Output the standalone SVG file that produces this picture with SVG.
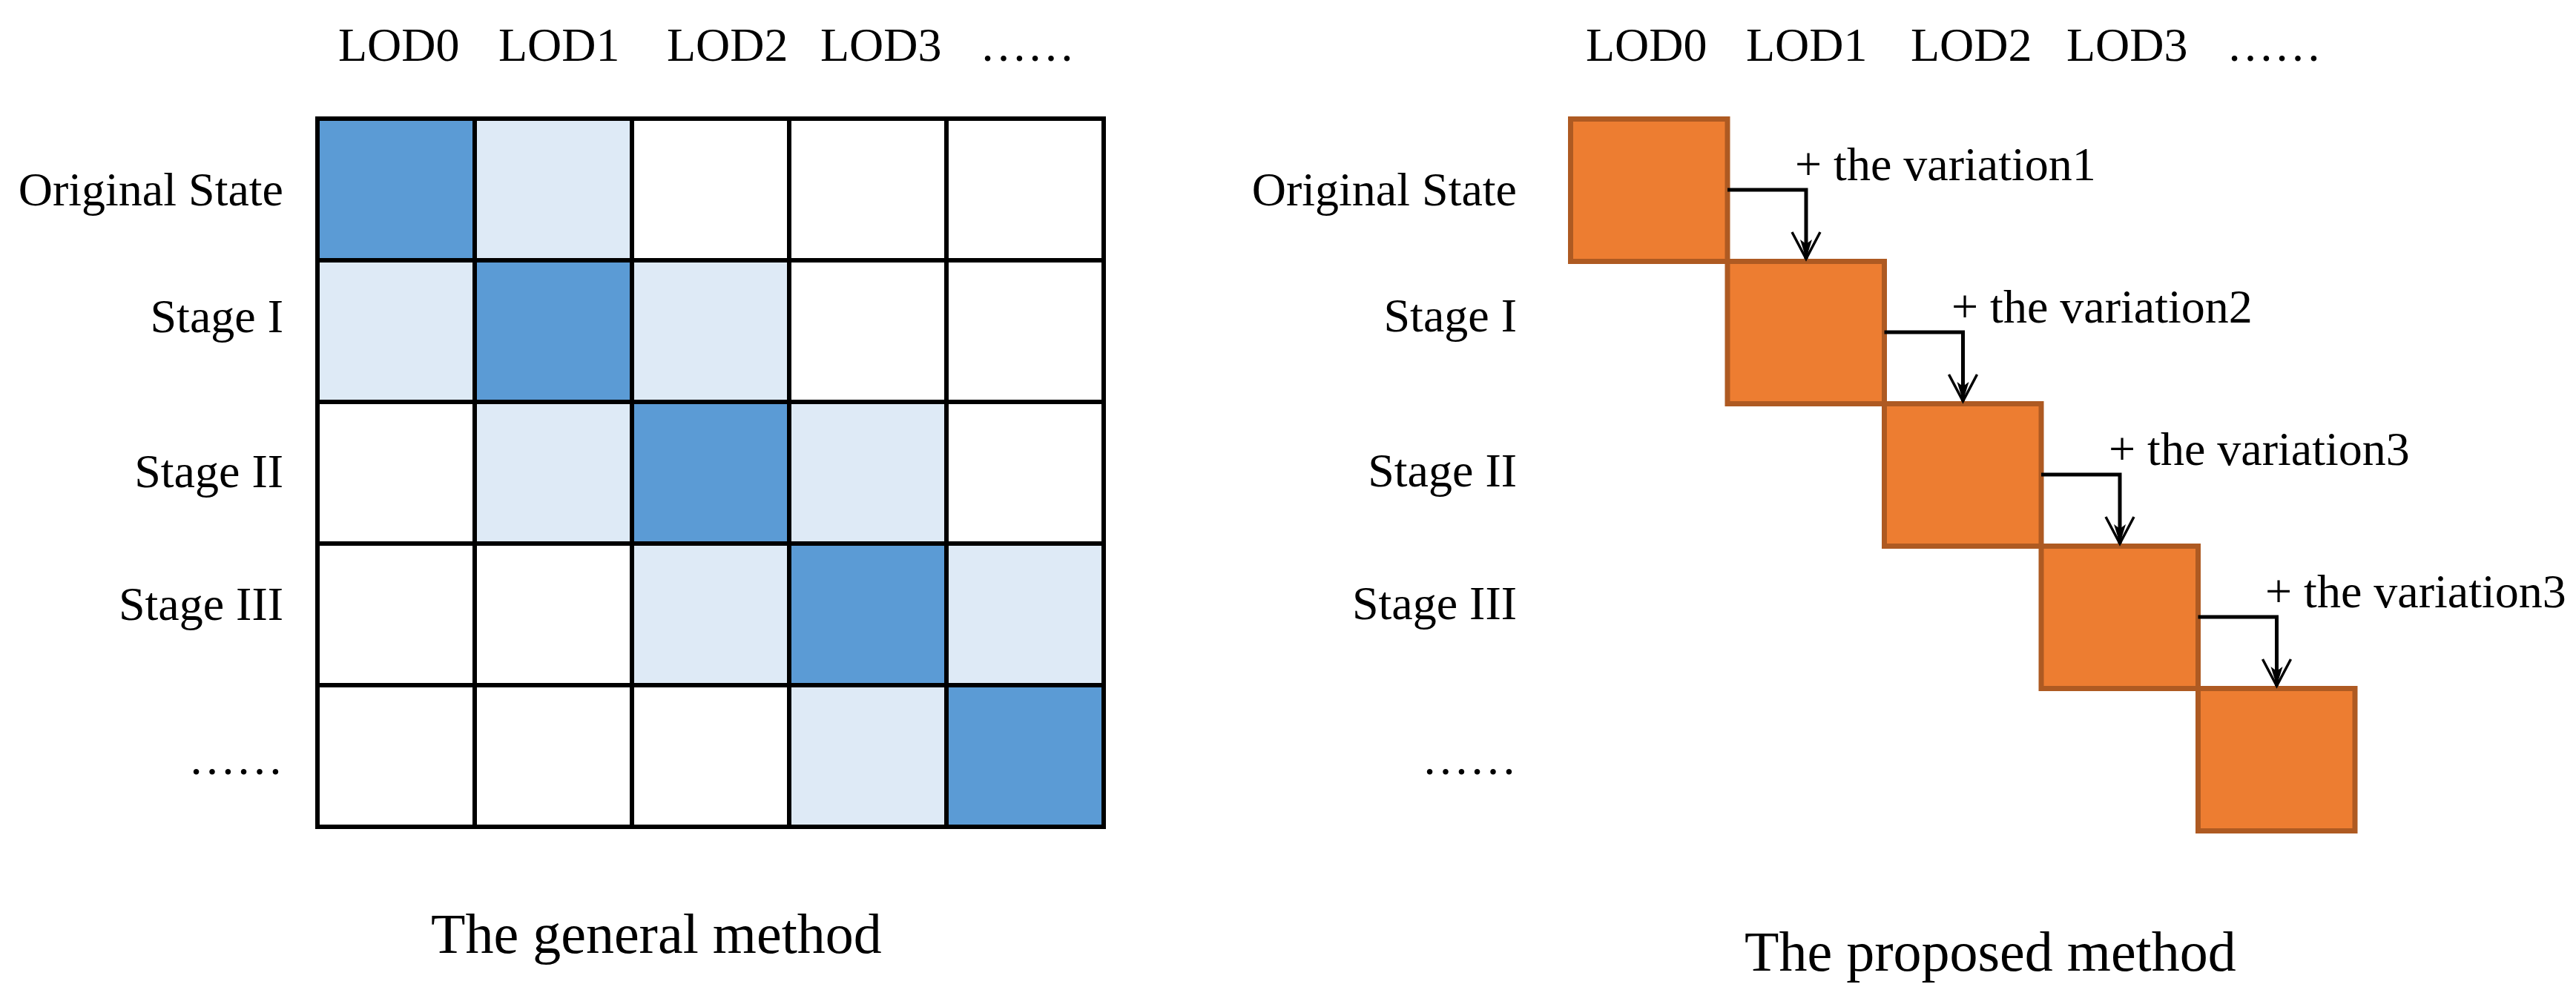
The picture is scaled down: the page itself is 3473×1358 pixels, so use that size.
<svg xmlns="http://www.w3.org/2000/svg" width="3473" height="1358" viewBox="0 0 3473 1358">
<style>
text{font-family:"Liberation Serif","Times New Roman",serif;font-size:64px;fill:#000}
.title{font-size:76px}
.lbl{text-anchor:end}
.dk{fill:#5B9BD5}
.lt{fill:#DEEAF6}
.wh{fill:#FFFFFF}
.gl{stroke:#000;stroke-width:6;fill:none;stroke-linecap:square}
.ob{fill:#ED7D31;stroke:#AE5A22;stroke-width:7}
.con{stroke:#000;stroke-width:5;fill:none}
</style>
<defs>
<marker id="arr" markerUnits="userSpaceOnUse" markerWidth="50" markerHeight="50" refX="0" refY="0" viewBox="-40 -25 45 50" orient="auto">
<path d="M-36,-19 L0,0 L-36,19" fill="none" stroke="#000" stroke-width="3.5"/>
<path d="M0,0 L-26,-8 L-20,0 L-26,8 Z" fill="#000"/>
</marker>
</defs>
<rect width="3473" height="1358" fill="#FFFFFF"/>

<g id="left-headers">
<text x="456" y="82">LOD0</text>
<text x="672" y="82">LOD1</text>
<text x="899" y="82">LOD2</text>
<text x="1106" y="82">LOD3</text>
<text x="1321" y="82">……</text>
</g>
<g id="left-rows">
<text class="lbl" x="382" y="277">Original State</text>
<text class="lbl" x="382" y="448">Stage I</text>
<text class="lbl" x="382" y="657">Stage II</text>
<text class="lbl" x="382" y="836">Stage III</text>
<text class="lbl" x="382" y="1044">……</text>
</g>

<g id="grid">
<rect class="dk" x="428" y="160" width="212" height="191"/>
<rect class="lt" x="640" y="160" width="212" height="191"/>
<rect class="lt" x="428" y="351" width="212" height="191"/>
<rect class="dk" x="640" y="351" width="212" height="191"/>
<rect class="lt" x="852" y="351" width="212" height="191"/>
<rect class="lt" x="640" y="542" width="212" height="191"/>
<rect class="dk" x="852" y="542" width="212" height="191"/>
<rect class="lt" x="1064" y="542" width="212" height="191"/>
<rect class="lt" x="852" y="733" width="212" height="191"/>
<rect class="dk" x="1064" y="733" width="212" height="191"/>
<rect class="lt" x="1276" y="733" width="212" height="191"/>
<rect class="lt" x="1064" y="924" width="212" height="191"/>
<rect class="dk" x="1276" y="924" width="212" height="191"/>
<path class="gl" d="M428,160 H1488 M428,351 H1488 M428,542 H1488 M428,733 H1488 M428,924 H1488 M428,1115 H1488 M428,160 V1115 M640,160 V1115 M852,160 V1115 M1064,160 V1115 M1276,160 V1115 M1488,160 V1115"/>
</g>
<text id="title-left" class="title" x="581" y="1285">The general method</text>

<g id="right-headers">
<text x="2138" y="82">LOD0</text>
<text x="2354" y="82">LOD1</text>
<text x="2576" y="82">LOD2</text>
<text x="2786" y="82">LOD3</text>
<text x="3002" y="82">……</text>
</g>
<g id="right-rows">
<text class="lbl" x="2045" y="277">Original State</text>
<text class="lbl" x="2045" y="447">Stage I</text>
<text class="lbl" x="2045" y="656">Stage II</text>
<text class="lbl" x="2045" y="835">Stage III</text>
<text class="lbl" x="2045" y="1044">……</text>
</g>

<g id="box0"><rect class="ob" x="2117.5" y="160.5" width="211.5" height="192"/></g>
<g id="box1"><rect class="ob" x="2329" y="352.5" width="211.5" height="192"/></g>
<g id="box2"><rect class="ob" x="2540.5" y="544.5" width="211.5" height="192"/></g>
<g id="box3"><rect class="ob" x="2752" y="736.5" width="211.5" height="192"/></g>
<g id="box4"><rect class="ob" x="2963.5" y="928.5" width="211.5" height="192"/></g>

<g id="connectors">
<path class="con" d="M2329,256 H2435 V349" marker-end="url(#arr)"/>
<path class="con" d="M2540.5,448 H2646.5 V541" marker-end="url(#arr)"/>
<path class="con" d="M2752,640 H2858 V733" marker-end="url(#arr)"/>
<path class="con" d="M2963.5,832 H3069.5 V925" marker-end="url(#arr)"/>
</g>
<g id="connector-labels">
<text x="2420" y="243">+ the variation1</text>
<text x="2631" y="435">+ the variation2</text>
<text x="2843" y="627">+ the variation3</text>
<text x="3054" y="819">+ the variation3</text>
</g>
<text id="title-right" class="title" x="2352" y="1309">The proposed method</text>
</svg>
